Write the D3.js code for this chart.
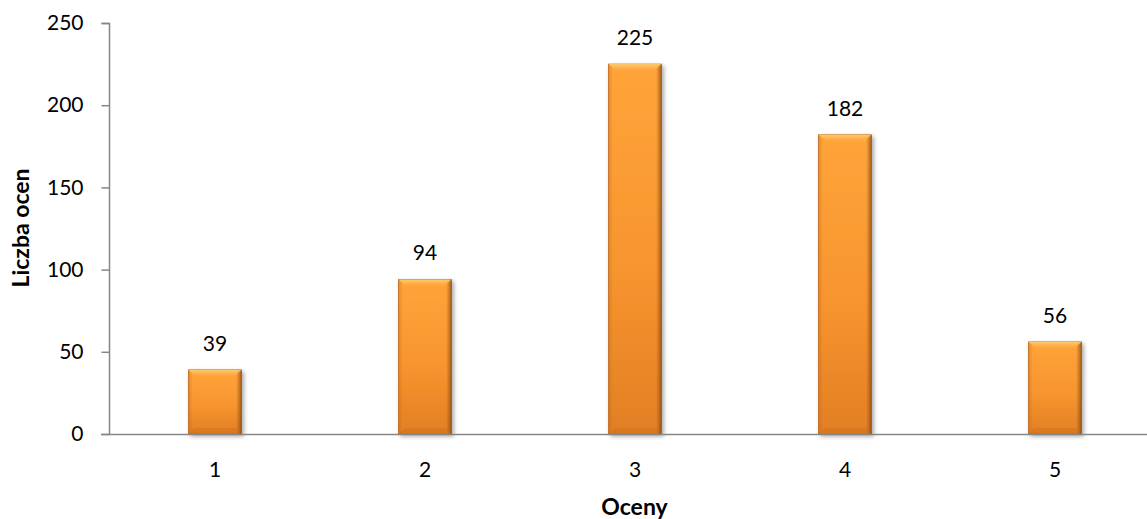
<!DOCTYPE html>
<html>
<head>
<meta charset="utf-8">
<script src="https://cdn.jsdelivr.net/npm/d3@7"></script>
<style>
html,body{margin:0;padding:0;background:#fff;}
svg{display:block;font-family:Lato,"Open Sans",sans-serif;}
</style>
</head>
<body>
<svg id="chart" width="1147" height="519"></svg>
<script>
const categories = ["1","2","3","4","5"];
const values = [39, 94, 225, 182, 56];
const yTicks = [0, 50, 100, 150, 200, 250];
const xTitle = "Oceny";
const yTitle = "Liczba ocen";

const svg = d3.select("#chart");
const x = d3.scaleBand().domain(categories).range([110, 1160]).paddingInner(0.748).paddingOuter(0.374);
const y = d3.scaleLinear().domain([0, 250]).range([434, 23]);

const defs = svg.append("defs");
const gv = defs.append("linearGradient").attr("id","gv").attr("x1",0).attr("y1",0).attr("x2",0).attr("y2",1);
gv.append("stop").attr("offset","0%").attr("stop-color","#ffa43a");
gv.append("stop").attr("offset","55%").attr("stop-color","#f7952f");
gv.append("stop").attr("offset","100%").attr("stop-color","#e27f24");
const gh = defs.append("linearGradient").attr("id","gh").attr("x1",0).attr("y1",0).attr("x2",1).attr("y2",0);
gh.append("stop").attr("offset","0%").attr("stop-color","#b85f10").attr("stop-opacity",0.35);
gh.append("stop").attr("offset","8%").attr("stop-color","#b85f10").attr("stop-opacity",0);
gh.append("stop").attr("offset","90%").attr("stop-color","#8a4a10").attr("stop-opacity",0);
gh.append("stop").attr("offset","96%").attr("stop-color","#8a4a10").attr("stop-opacity",0.45);
gh.append("stop").attr("offset","100%").attr("stop-color","#6e3a0c").attr("stop-opacity",0.7);
const gt = defs.append("linearGradient").attr("id","gt").attr("x1",0).attr("y1",0).attr("x2",0).attr("y2",1);
gt.append("stop").attr("offset","0%").attr("stop-color","#ffd27a").attr("stop-opacity",0.9);
gt.append("stop").attr("offset","100%").attr("stop-color","#ffb54a").attr("stop-opacity",0);
const filt = defs.append("filter").attr("id","sh").attr("x","-20%").attr("y","-20%").attr("width","140%").attr("height","140%");
filt.append("feGaussianBlur").attr("in","SourceAlpha").attr("stdDeviation",2).attr("result","b");
filt.append("feOffset").attr("in","b").attr("dx",1.5).attr("dy",1.5).attr("result","o");
filt.append("feComponentTransfer").attr("in","o").attr("result","o2").append("feFuncA").attr("type","linear").attr("slope",0.35);
const fm = filt.append("feMerge");
fm.append("feMergeNode").attr("in","o2");
fm.append("feMergeNode").attr("in","SourceGraphic");

// Axes
const yAxis = d3.axisLeft(y).tickValues(yTicks).tickSize(8).tickPadding(18);
const yg = svg.append("g").attr("transform","translate(109.5,0)").call(yAxis);
yg.select(".domain").attr("stroke","#868686").attr("stroke-width",1.5).attr("d","M-8,23.5H0V434");
yg.selectAll(".tick line").attr("stroke","#868686").attr("stroke-width",1.5);
yg.selectAll(".tick text").attr("font-size",21).attr("fill","#000").attr("font-family","Lato,'Open Sans',sans-serif");

// Bars
const bars = svg.append("g").selectAll("g").data(categories).join("g");
bars.append("rect")
  .attr("x", d => x(d)).attr("y", (d,i) => y(values[i]))
  .attr("width", x.bandwidth()).attr("height", (d,i) => y(0) - y(values[i]))
  .attr("fill","url(#gv)").attr("stroke","#c06a1c").attr("stroke-width",0.8).attr("filter","url(#sh)");
bars.append("rect")
  .attr("x", d => x(d)).attr("y", (d,i) => y(values[i]))
  .attr("width", x.bandwidth()).attr("height", (d,i) => y(0) - y(values[i]))
  .attr("fill","url(#gh)");
bars.append("path")
  .attr("d", (d,i) => {
    const x0 = x(d), x1 = x0 + x.bandwidth(), yt = y(values[i]), h = 7;
    return `M${x0},${yt}H${x1}L${x1-h},${yt+h}H${x0+h}Z`;
  })
  .attr("fill","url(#gt)");
bars.append("path")
  .attr("d", (d,i) => {
    const x0 = x(d), x1 = x0 + x.bandwidth(), yb = y(0), h = 6;
    return `M${x0},${yb}H${x1}L${x1-h},${yb-h}H${x0+h}Z`;
  })
  .attr("fill","#c8691a").attr("opacity",0.35);

// X axis line
svg.append("line").attr("x1",101).attr("x2",1147).attr("y1",434.5).attr("y2",434.5)
  .attr("stroke","#868686").attr("stroke-width",1.5);

// X tick labels
svg.append("g").selectAll("text").data(categories).join("text")
  .attr("x", d => x(d) + x.bandwidth()/2).attr("y", 477)
  .attr("text-anchor","middle").attr("font-size",21).text(d => d);

// Value labels
svg.append("g").selectAll("text").data(categories).join("text")
  .attr("x", d => x(d) + x.bandwidth()/2).attr("y", (d,i) => y(values[i]) - 19)
  .attr("text-anchor","middle").attr("font-size",21).text((d,i) => values[i]);

// Titles
svg.append("text").attr("x",634.5).attr("y",515).attr("text-anchor","middle")
  .attr("font-size",23).attr("font-weight","bold").text(xTitle);
svg.append("text").attr("transform","translate(29,228) rotate(-90)").attr("text-anchor","middle")
  .attr("font-size",23).attr("font-weight","bold").text(yTitle);
</script>
</body>
</html>
